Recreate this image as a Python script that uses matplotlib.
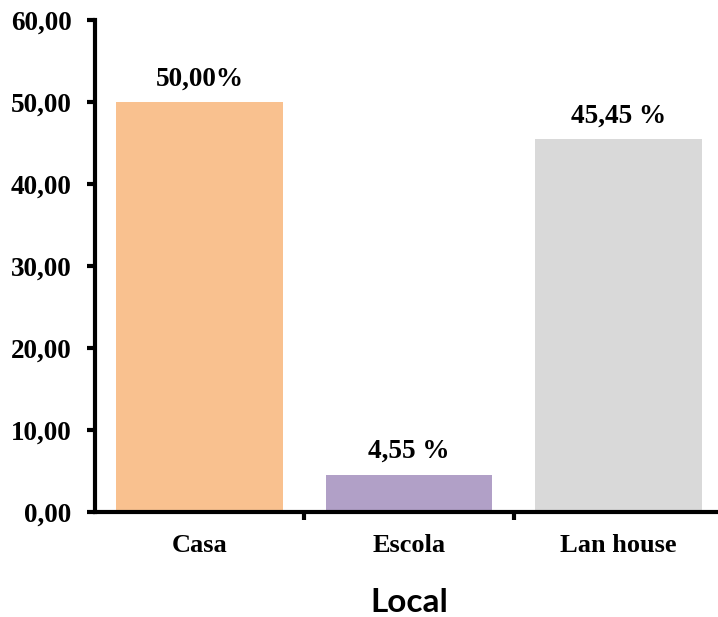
import matplotlib
matplotlib.use("Agg")
import matplotlib.pyplot as plt
import numpy as np

categories = ["Casa", "Escola", "Lan house"]
values = [50.00, 4.55, 45.45]
value_labels = ["50,00%", "4,55 %", "45,45 %"]
colors = ["#F9C18F", "#B1A0C7", "#D9D9D9"]
yticks = [0, 10, 20, 30, 40, 50, 60]

fig = plt.figure(figsize=(7.18, 6.17), dpi=100)
ax = fig.add_axes([0.1323, 0.170, 0.8747, 0.7976])

x = np.arange(len(categories))
bars = ax.bar(x, values, width=0.795, color=colors, zorder=2)

serif = ["Liberation Serif", "DejaVu Serif"]
for b, lab in zip(bars, value_labels):
    ax.annotate(lab, (b.get_x() + b.get_width() / 2, b.get_height()),
                xytext=(0, 12), textcoords="offset points",
                ha="center", va="baseline", fontsize=19.5, fontweight="bold",
                family=serif)

ax.set_xlim(-0.5, 2.5)
ax.set_ylim(0, 60)
ax.set_yticks(yticks)
ax.set_yticklabels([f"{v:.2f}".replace(".", ",") for v in yticks],
                   fontsize=19.5, fontweight="bold", family=serif)

# category ticks sit on the boundaries, labels in the middle
ax.set_xticks([0.5, 1.5])
ax.set_xticklabels([])
ax.set_xticks(x, minor=True)
ax.set_xticklabels(categories, minor=True, fontsize=19, fontweight="bold",
                   family=serif)
ax.tick_params(axis="x", which="minor", length=0, pad=16)
ax.tick_params(axis="x", which="major", length=6, width=3, direction="out")
ax.tick_params(axis="y", length=6, width=3, direction="out", pad=11)

for s in ["top", "right"]:
    ax.spines[s].set_visible(False)
for s in ["left", "bottom"]:
    ax.spines[s].set_linewidth(3)

ax.set_xlabel("Local", fontsize=24, fontweight="bold", family="Lato",
              labelpad=22)

fig.savefig("out.png", dpi=100)
